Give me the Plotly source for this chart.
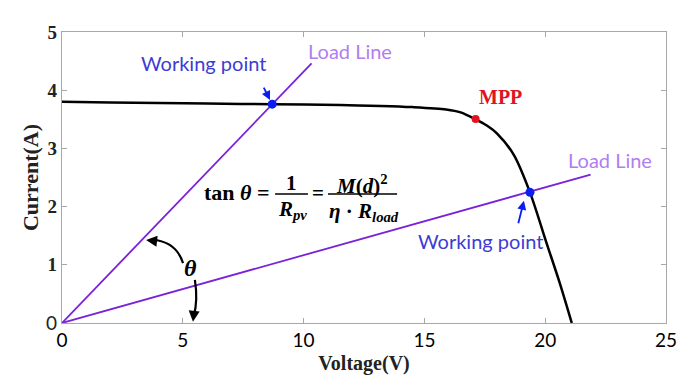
import plotly.graph_objects as go

# I-V curve of the PV panel
voltage = [0, 2, 4, 6, 8.7, 11.5, 13.2, 14.5, 15.9, 16.5, 17.1, 17.6, 18.0, 18.7, 19.37, 20.06, 20.6, 21.1]
current = [3.80, 3.79, 3.78, 3.77, 3.76, 3.745, 3.73, 3.71, 3.67, 3.62, 3.505, 3.39, 3.26, 2.89, 2.245, 1.37, 0.69, 0]

# load lines
load1_v = [0, 10.33]
load1_i = [0, 4.46]
load2_v = [0, 21.88]
load2_i = [0, 2.55]

# special points
work_v = [8.70, 19.37]
work_i = [3.76, 2.245]
mpp_v = [17.12]
mpp_i = [3.505]

x_ticks = [0, 5, 10, 15, 20, 25]
y_ticks = [0, 1, 2, 3, 4, 5]

PURPLE = "#7a22d8"
BLUE = "#0a1ef0"
TXT_BLUE = "#3c3cd2"
TXT_PURPLE = "#b07ef0"
RED = "#e0141e"
SERIF = "Liberation Serif"
SANS = "Lato"

fig = go.Figure()
fig.add_trace(go.Scatter(x=voltage, y=current, mode="lines",
                         line=dict(color="black", width=2.5, shape="spline", smoothing=0.8),
                         showlegend=False, hoverinfo="skip"))
fig.add_trace(go.Scatter(x=load1_v, y=load1_i, mode="lines",
                         line=dict(color=PURPLE, width=1.8), showlegend=False))
fig.add_trace(go.Scatter(x=load2_v, y=load2_i, mode="lines",
                         line=dict(color=PURPLE, width=1.8), showlegend=False))
fig.add_trace(go.Scatter(x=work_v, y=work_i, mode="markers",
                         marker=dict(color=BLUE, size=9), showlegend=False))
fig.add_trace(go.Scatter(x=mpp_v, y=mpp_i, mode="markers",
                         marker=dict(color=RED, size=8), showlegend=False))

ann = []
def text(x, y, t, color="black", size=18, family=SANS, xanchor="center"):
    ann.append(dict(x=x, y=y, text=t, showarrow=False, xanchor=xanchor, yanchor="middle",
                    font=dict(color=color, size=size, family=family)))

text(5.84, 4.47, "Working point", TXT_BLUE, 20)
text(11.92, 4.67, "Load Line", TXT_PURPLE, 20)
text(18.13, 3.88, "<b>MPP</b>", RED, 20, SERIF)
text(22.68, 2.80, "Load Line", TXT_PURPLE, 20)
text(17.34, 1.41, "Working point", TXT_BLUE, 20)
text(5.30, 0.945, "<b><i>θ</i></b>", "black", 24, SERIF)

# equation
text(8.69, 2.234, "<b>tan <i>θ</i> =</b>", "black", 22, SERIF, "right")
text(9.48, 2.41, "<b>1</b>", "black", 21, SERIF)
text(10.60, 2.234, "<b>=</b>", "black", 21, SERIF)
text(9.52, 1.94, "<b><i>R<sub>pv</sub></i></b>", "black", 21, SERIF)
text(12.40, 2.38, "<b><i>M</i>(<i>d</i>)<sup>2</sup></b>", "black", 21, SERIF)
text(12.50, 1.91, "<b><i>η</i> · <i>R<sub>load</sub></i></b>", "black", 21, SERIF)

# arrows
def arrow(x, y, ax, ay, color, width=2):
    ann.append(dict(x=x, y=y, ax=ax, ay=ay, axref="pixel", ayref="pixel", text="",
                    showarrow=True, arrowhead=2, arrowsize=1, arrowwidth=width, arrowcolor=color))

arrow(8.61, 3.83, -7, -14, BLUE, 1.8)
arrow(19.12, 2.10, -6, 24, BLUE, 1.8)
arrow(3.48, 1.426, 9, 1, "black", 2.2)
arrow(5.42, 0.02, 1, -9, "black", 2.2)

shapes = [
    dict(type="line", x0=8.82, x1=10.18, y0=2.216, y1=2.216, line=dict(color="black", width=1.5)),
    dict(type="line", x0=11.01, x1=13.87, y0=2.216, y1=2.216, line=dict(color="black", width=1.5)),
    dict(type="path", path="M 5.01 1.03 Q 4.72 1.40 3.75 1.43", line=dict(color="black", width=2.2)),
    dict(type="path", path="M 5.50 0.74 Q 5.63 0.40 5.46 0.12", line=dict(color="black", width=2.2)),
]

y_text = ["<span style='font-family:Lato'>0</span>"] + ["<b>%d</b>" % v for v in y_ticks[1:]]

# the page body adds an 8px offset, margins compensate for it
fig.update_layout(
    width=694, height=389,
    margin=dict(l=54, r=36, t=24, b=74, autoexpand=False),
    paper_bgcolor="white", plot_bgcolor="white",
    annotations=ann, shapes=shapes,
    xaxis=dict(range=[0, 25], tickvals=x_ticks, ticktext=[str(v) for v in x_ticks],
               showline=True, mirror="ticks", linecolor="#a8a8a8", linewidth=1.2,
               ticks="inside", ticklen=5, tickcolor="#a8a8a8", showgrid=False, zeroline=False,
               tickfont=dict(family=SANS, size=19, color="black"),
               title=dict(text="<b>Voltage(V)</b>", font=dict(family=SERIF, size=20, color="#222"), standoff=6)),
    yaxis=dict(range=[0, 5], tickvals=y_ticks, ticktext=y_text,
               showline=True, mirror="ticks", linecolor="#a8a8a8", linewidth=1.2,
               ticks="inside", ticklen=5, tickcolor="#a8a8a8", showgrid=False, zeroline=False,
               tickfont=dict(family=SERIF, size=19, color="#222"),
               title=dict(text="<b>Current(A)</b>", font=dict(family=SERIF, size=22, color="#222"), standoff=1)),
)

fig.write_html("out.html")
